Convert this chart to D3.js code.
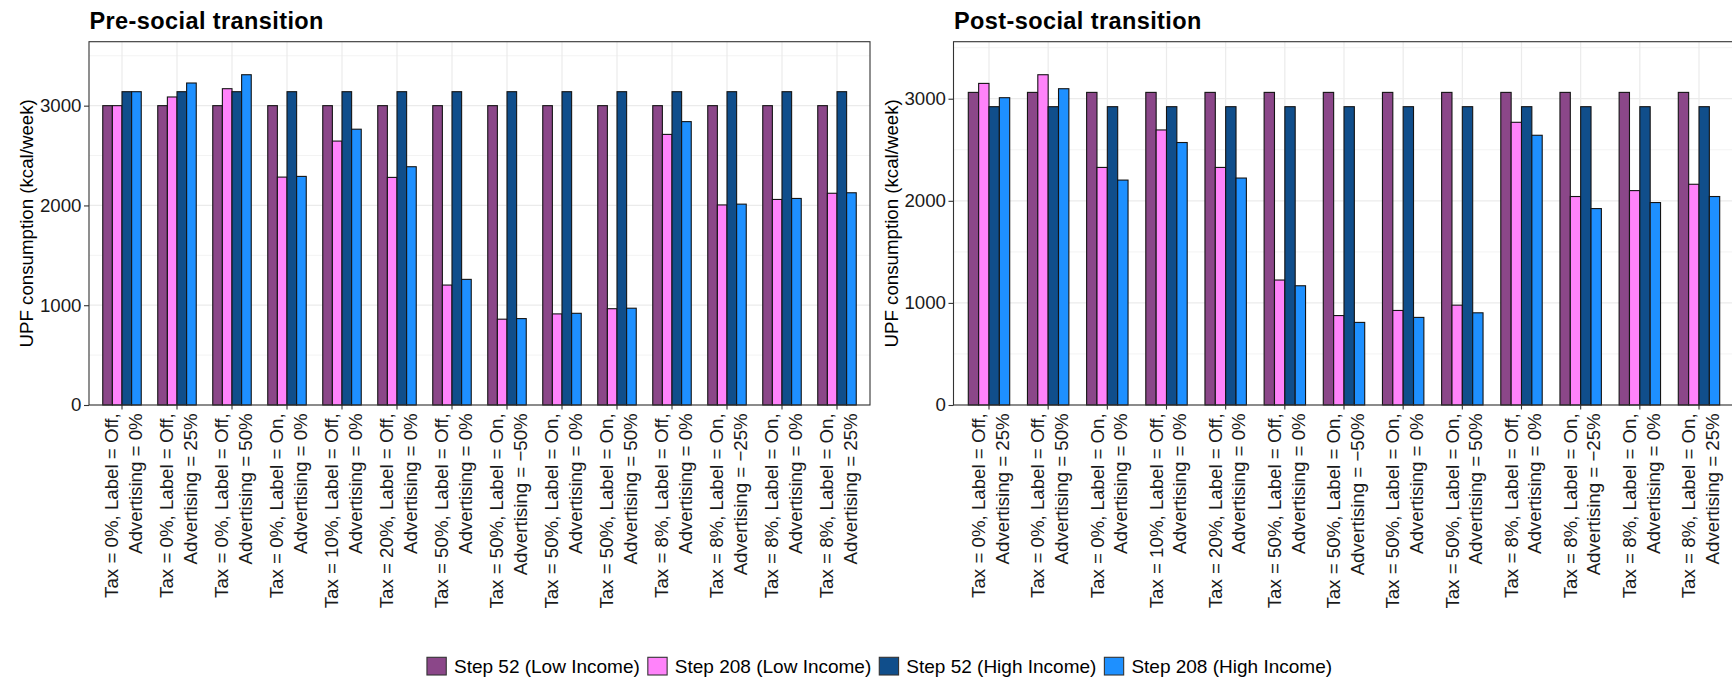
<!DOCTYPE html>
<html>
<head>
<meta charset="utf-8">
<script src="https://cdn.jsdelivr.net/npm/d3@7"></script>
<style>
  html, body { margin: 0; padding: 0; background: #fff; }
  svg { display: block; font-family: "Liberation Sans", Arial, Helvetica, sans-serif; }
</style>
</head>
<body>
<svg id="chart" width="1732" height="687"></svg>
<script>
// Scenario labels (two lines each: policy settings / advertising change)
const categoriesPre = [
  ["Tax = 0%, Label = Off,", "Advertising = 0%"],
  ["Tax = 0%, Label = Off,", "Advertising = 25%"],
  ["Tax = 0%, Label = Off,", "Advertising = 50%"],
  ["Tax = 0%, Label = On,", "Advertising = 0%"],
  ["Tax = 10%, Label = Off,", "Advertising = 0%"],
  ["Tax = 20%, Label = Off,", "Advertising = 0%"],
  ["Tax = 50%, Label = Off,", "Advertising = 0%"],
  ["Tax = 50%, Label = On,", "Advertising = −50%"],
  ["Tax = 50%, Label = On,", "Advertising = 0%"],
  ["Tax = 50%, Label = On,", "Advertising = 50%"],
  ["Tax = 8%, Label = Off,", "Advertising = 0%"],
  ["Tax = 8%, Label = On,", "Advertising = −25%"],
  ["Tax = 8%, Label = On,", "Advertising = 0%"],
  ["Tax = 8%, Label = On,", "Advertising = 25%"]
];
const categoriesPost = categoriesPre.slice(1);

const seriesNames = ["Step 52 (Low Income)", "Step 208 (Low Income)", "Step 52 (High Income)", "Step 208 (High Income)"];
const seriesColors = ["#8B4789", "#FF83FA", "#104E8B", "#1E90FF"];

// Pre-social transition, UPF consumption (kcal/week)
const preStep52Low   = [3000, 3000, 3000, 3000, 3000, 3000, 3000, 3000, 3000, 3000, 3000, 3000, 3000, 3000];
const preStep208Low  = [3000, 3087, 3170, 2284, 2645, 2281, 1202, 860, 913, 965, 2712, 2005, 2060, 2122];
const preStep52High  = [3140, 3140, 3140, 3140, 3140, 3140, 3140, 3140, 3140, 3140, 3140, 3140, 3140, 3140];
const preStep208High = [3140, 3227, 3310, 2291, 2764, 2388, 1259, 866, 919, 970, 2840, 2013, 2070, 2127];

// Post-social transition, UPF consumption (kcal/week)
const postStep52Low   = [3062, 3062, 3062, 3062, 3062, 3062, 3062, 3062, 3062, 3062, 3062, 3062, 3062];
const postStep208Low  = [3150, 3235, 2327, 2694, 2327, 1224, 876, 926, 978, 2769, 2042, 2100, 2162];
const postStep52High  = [2922, 2922, 2922, 2922, 2922, 2922, 2922, 2922, 2922, 2922, 2922, 2922, 2922];
const postStep208High = [3010, 3098, 2203, 2571, 2223, 1168, 809, 858, 903, 2642, 1924, 1983, 2042];

const yMajorTicks = [0, 1000, 2000, 3000];
const yMinorTicks = [500, 1500, 2500, 3500];
const yTitle = "UPF consumption (kcal/week)";

const svg = d3.select("#chart");
svg.append("rect").attr("width", 1732).attr("height", 687).attr("fill", "#fff");

const FONT = 18.7;
const panelTop = 41.7, panelBottom = 405;

function drawPanel(opts) {
  const { left, width, title, cats, series } = opts;
  const right = left + width;
  const g = svg.append("g");
  const keys = cats.map(c => c.join(" "));
  const maxVal = d3.max(series.flat());

  const x = d3.scaleBand().domain(keys).range([left, right])
    .paddingInner(0.3).paddingOuter(0.25);
  const xs = d3.scaleBand().domain(d3.range(series.length)).range([0, x.bandwidth()]).padding(0);
  const y = d3.scaleLinear().domain([0, maxVal * 1.1]).range([panelBottom, panelTop]);

  // grid
  const grid = g.append("g");
  grid.selectAll(".ymin").data(yMinorTicks.filter(v => y(v) > panelTop)).join("line")
    .attr("x1", left).attr("x2", right).attr("y1", d => y(d)).attr("y2", d => y(d))
    .attr("stroke", "#f2f2f2").attr("stroke-width", 0.9);
  grid.selectAll(".ymaj").data(yMajorTicks).join("line")
    .attr("x1", left).attr("x2", right).attr("y1", d => y(d)).attr("y2", d => y(d))
    .attr("stroke", "#ebebeb").attr("stroke-width", 1.2);
  grid.selectAll(".xmaj").data(keys).join("line")
    .attr("x1", d => x(d) + x.bandwidth() / 2).attr("x2", d => x(d) + x.bandwidth() / 2)
    .attr("y1", panelTop).attr("y2", panelBottom)
    .attr("stroke", "#ebebeb").attr("stroke-width", 1.2);

  // bars
  series.forEach((vals, si) => {
    g.append("g").selectAll("rect").data(vals).join("rect")
      .attr("x", (d, i) => x(keys[i]) + xs(si))
      .attr("width", xs.bandwidth())
      .attr("y", d => y(d))
      .attr("height", d => y(0) - y(d))
      .attr("fill", seriesColors[si])
      .attr("stroke", "#141414")
      .attr("stroke-width", 1.1);
  });

  // panel border
  g.append("rect").attr("x", left).attr("y", panelTop)
    .attr("width", width).attr("height", panelBottom - panelTop)
    .attr("fill", "none").attr("stroke", "#333333").attr("stroke-width", 1.1);

  // y axis
  const yAxis = d3.axisLeft(y).tickValues(yMajorTicks).tickSize(5).tickPadding(2.5).tickFormat(d3.format("d"));
  const ya = g.append("g").attr("transform", `translate(${left},0)`).call(yAxis);
  ya.select(".domain").remove();
  ya.selectAll(".tick line").attr("stroke", "#333333").attr("stroke-width", 1.1);
  ya.selectAll(".tick text").attr("fill", "#1a1a1a").style("font-size", FONT + "px")
    .style("font-family", "'Liberation Sans', Arial, sans-serif");

  // x axis ticks
  const xAxis = d3.axisBottom(x).tickSize(4.5).tickFormat("");
  const xa = g.append("g").attr("transform", `translate(0,${panelBottom})`).call(xAxis);
  xa.select(".domain").remove();
  xa.selectAll(".tick line").attr("stroke", "#333333").attr("stroke-width", 1.1);

  // x labels, rotated, two lines right-aligned to the axis
  cats.forEach((c, i) => {
    const cx = x(keys[i]) + x.bandwidth() / 2;
    const t = g.append("text")
      .attr("transform", `translate(${cx},${panelBottom + 8.3}) rotate(-90)`)
      .attr("text-anchor", "end")
      .attr("fill", "#1a1a1a")
      .style("font-size", FONT + "px");
    t.append("tspan").attr("x", 0).attr("y", -3.7).text(c[0]);
    t.append("tspan").attr("x", 0).attr("y", 19.7).text(c[1]);
  });

  // y title
  g.append("text")
    .attr("transform", `translate(${left - 56},${(panelTop + panelBottom) / 2}) rotate(-90)`)
    .attr("text-anchor", "middle")
    .attr("fill", "#000")
    .style("font-size", FONT + "px")
    .text(yTitle);

  // panel title
  g.append("text")
    .attr("x", left + 0.5).attr("y", 29.3)
    .attr("fill", "#000")
    .style("font-size", "23.5px").style("font-weight", "bold")
    .style("letter-spacing", "0.4px")
    .text(title);
}

drawPanel({
  left: 89, width: 781, title: "Pre-social transition",
  cats: categoriesPre,
  series: [preStep52Low, preStep208Low, preStep52High, preStep208High]
});
drawPanel({
  left: 953.5, width: 781, title: "Post-social transition",
  cats: categoriesPost,
  series: [postStep52Low, postStep208Low, postStep52High, postStep208High]
});

// legend
const leg = svg.append("g");
let cursor = 0;
seriesNames.forEach((name, i) => {
  const item = leg.append("g").attr("transform", `translate(${cursor},0)`);
  item.append("rect").attr("x", 0).attr("y", 657.3).attr("width", 19.3).attr("height", 17.7)
    .attr("fill", seriesColors[i]).attr("stroke", "#333333").attr("stroke-width", 1.1);
  const t = item.append("text").attr("x", 27).attr("y", 673.3)
    .attr("fill", "#000").style("font-size", "19px").text(name);
  cursor += 27 + t.node().getComputedTextLength() + 8;
});
const legWidth = cursor - 8;
leg.attr("transform", `translate(${879.5 - legWidth / 2},0)`);
</script>
</body>
</html>
